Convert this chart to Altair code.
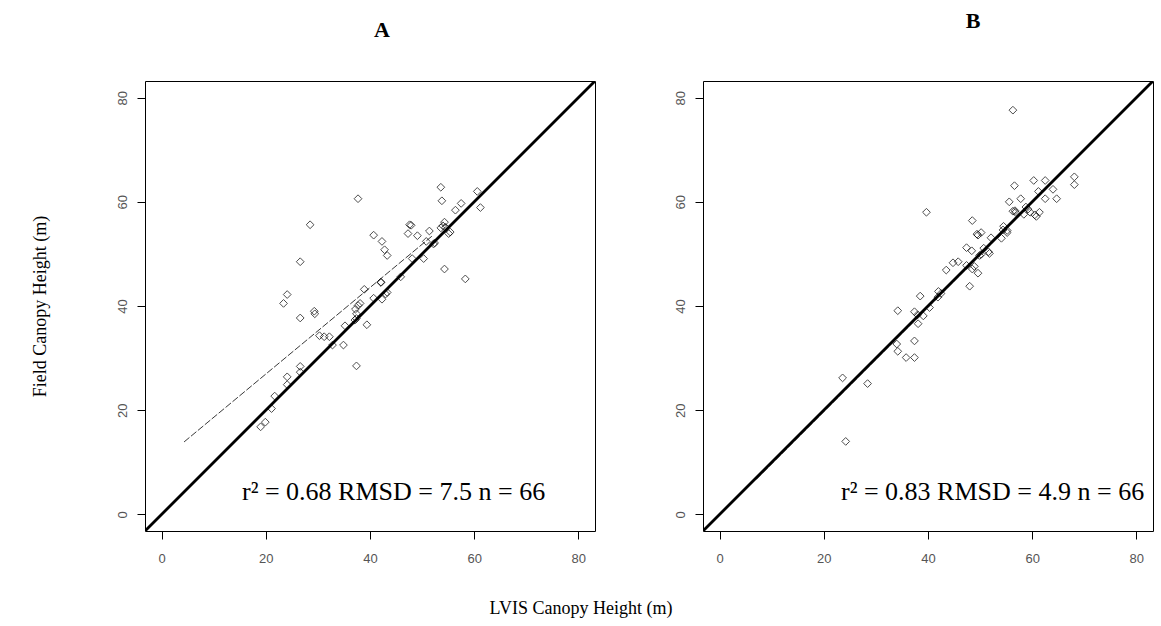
import altair as alt
import pandas as pd

# ---- data ----
lvis_a = [53.6, 37.7, 60.6, 53.8, 57.5, 56.4, 61.2, 28.5, 47.6, 47.9,
          54.3, 53.6, 54.5, 55.1, 55.4, 47.3, 49.1, 51.4, 40.7, 42.3,
          42.8, 43.3, 50.8, 52.2, 52.4, 50.3, 48.1, 26.6, 54.3, 58.3,
          45.9, 42.1, 42.1, 38.9, 43.3, 42.3, 40.7, 24.1, 23.4, 38.1,
          37.7, 37.2, 37.4, 37.1, 29.3, 29.4, 26.6, 39.4, 35.2, 30.3,
          31.2, 32.2, 32.8, 34.9, 37.4, 26.6, 26.6, 24.1, 24.1, 21.7,
          21.1, 19.9, 19.0, 54.0, 37.4, 43.0]
field_a = [62.8, 60.6, 62.0, 60.2, 59.7, 58.4, 58.9, 55.6, 55.6, 55.5,
           56.1, 55.0, 55.1, 53.9, 54.2, 53.9, 53.5, 54.4, 53.6, 52.4,
           50.8, 49.7, 52.4, 51.9, 52.1, 49.1, 49.1, 48.5, 47.1, 45.2,
           45.6, 44.6, 44.5, 43.2, 42.6, 41.3, 41.5, 42.2, 40.5, 40.5,
           40.1, 39.4, 38.5, 37.3, 39.0, 38.5, 37.7, 36.4, 36.2, 34.3,
           34.1, 34.1, 32.5, 32.5, 28.5, 28.4, 27.3, 26.4, 24.9, 22.7,
           20.3, 17.7, 16.8, 55.4, 37.6, 42.3]

lvis_b = [56.3, 39.7, 68.1, 68.1, 60.3, 62.5, 56.6, 61.2, 64.0, 64.7,
          62.5, 57.8, 55.6, 56.7, 56.8, 58.8, 58.4, 59.6, 61.4, 60.8,
          48.5, 54.5, 55.2, 54.1, 49.6, 50.2, 52.1, 50.7, 47.4, 48.4,
          51.8, 49.9, 45.8, 44.8, 47.4, 43.5, 48.5, 49.6, 48.0, 42.0,
          41.9, 38.5, 34.2, 37.4, 40.3, 39.1, 38.1, 37.4, 34.0, 34.2,
          35.8, 37.4, 23.6, 28.4, 24.2, 38.0, 59.2, 50.2, 51.6, 54.4,
          55.2, 60.5, 49.4, 56.3, 48.9, 42.5]
field_b = [77.6, 58.0, 64.8, 63.3, 64.1, 64.1, 63.1, 62.0, 62.4, 60.6,
           60.6, 60.6, 60.0, 58.3, 58.0, 59.0, 57.6, 58.0, 58.0, 57.2,
           56.4, 55.3, 54.1, 53.0, 53.6, 54.1, 53.1, 51.1, 51.2, 50.6,
           50.1, 49.7, 48.5, 48.3, 47.8, 46.9, 47.1, 46.3, 43.8, 42.8,
           41.7, 41.9, 39.1, 38.9, 39.7, 38.1, 36.6, 33.3, 32.7, 31.3,
           30.1, 30.1, 26.2, 25.1, 14.0, 38.3, 58.6, 49.9, 50.4, 54.6,
           54.5, 57.5, 53.8, 58.2, 47.6, 42.4]

ticks = [0, 20, 40, 60, 80]
axis_domain = [-3.2, 83.2]
one_to_one = [-3.2, 83.2]
reg_a_x = [4.3, 52.0]
reg_a_y = [13.9, 53.5]
reg_b_x = [7.0, 68.0]
reg_b_y = [6.7, 67.8]
stats_a = "r\u00b2 = 0.68 RMSD = 7.5 n = 66"
stats_b = "r\u00b2 = 0.83 RMSD = 4.9 n = 66"
panel_labels = ["A", "B"]
x_title = "LVIS Canopy Height (m)"
y_title = "Field Canopy Height (m)"

SERIF = "Liberation Serif"
TICKFONT = "Liberation Sans"


def panel(lx, fy, rx, ry, label, stats, label_pos, stats_pos, show_ytitle):
    xs = alt.Scale(domain=axis_domain, nice=False, zero=False)
    ys = alt.Scale(domain=axis_domain, nice=False, zero=False)
    xaxis = alt.Axis(values=ticks, title=None, grid=False, domain=False,
                     tickSize=8, tickColor="black", labelFont=TICKFONT,
                     labelFontSize=13, labelColor="#555555", labelPadding=13)
    yargs = dict(values=ticks, grid=False, domain=False, tickSize=8,
                 tickColor="black", labelFont=TICKFONT, labelFontSize=13,
                 labelColor="#555555", labelPadding=8, labelAngle=270,
                 labelAlign="center", labelBaseline="bottom")
    if show_ytitle:
        yaxis = alt.Axis(title=y_title, titleFont=SERIF, titleFontSize=18,
                         titleFontWeight="normal", titleColor="black",
                         titlePadding=67, **yargs)
    else:
        yaxis = alt.Axis(title=None, **yargs)

    pts = pd.DataFrame({"lvis": lx, "field": fy})
    diag = pd.DataFrame({"lvis": one_to_one, "field": one_to_one})
    reg = pd.DataFrame({"lvis": rx, "field": ry})

    base_pts = alt.Chart(pts).mark_point(
        shape="diamond", size=60, filled=False, color="black", strokeWidth=1
    ).encode(
        x=alt.X("lvis:Q", scale=xs, axis=xaxis),
        y=alt.Y("field:Q", scale=ys, axis=yaxis),
    )
    diag_line = alt.Chart(diag).mark_line(
        color="black", strokeWidth=2.8, clip=True
    ).encode(x=alt.X("lvis:Q", scale=xs), y=alt.Y("field:Q", scale=ys))
    reg_line = alt.Chart(reg).mark_line(
        color="#222222", strokeWidth=0.9, strokeDash=[7, 2], clip=True
    ).encode(x=alt.X("lvis:Q", scale=xs), y=alt.Y("field:Q", scale=ys))
    stats_txt = alt.Chart(pd.DataFrame({"t": [stats]})).mark_text(
        align="left", baseline="alphabetic", font=SERIF, fontSize=26,
        color="black"
    ).encode(x=alt.value(stats_pos[0]), y=alt.value(stats_pos[1]), text="t:N")
    lab_txt = alt.Chart(pd.DataFrame({"t": [label]})).mark_text(
        align="center", baseline="middle", font=SERIF, fontSize=22,
        fontWeight="bold", color="black"
    ).encode(x=alt.value(label_pos[0]), y=alt.value(label_pos[1]), text="t:N")

    return alt.layer(reg_line, diag_line, base_pts, stats_txt, lab_txt).properties(
        width=450, height=450
    )


pa = panel(lvis_a, field_a, reg_a_x, reg_a_y, panel_labels[0], stats_a,
           (237, -51), (97, 419), True)
pb = panel(lvis_b, field_b, reg_b_x, reg_b_y, panel_labels[1], stats_b,
           (270, -60), (138, 419), False)

chart = alt.hconcat(pa, pb, spacing=77).properties(
    title=alt.TitleParams(x_title, orient="bottom", anchor="middle",
                          font=SERIF, fontSize=18, fontWeight="normal",
                          color="black", offset=34, dx=-11),
    padding={"left": 30, "top": 9, "right": 5, "bottom": 5},
    background="white",
).configure_view(stroke="black", strokeWidth=1)

chart.save("out.html", embed_options={"renderer": "svg", "actions": False})
